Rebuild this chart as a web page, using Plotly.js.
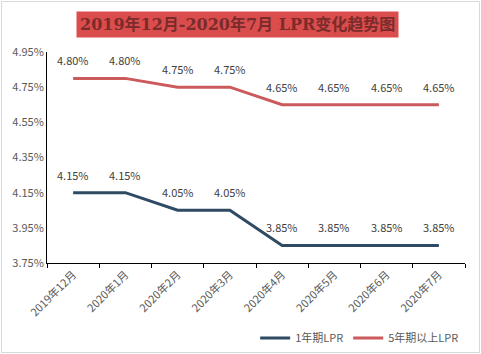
<!DOCTYPE html>
<html><head><meta charset="utf-8">
<script src="https://cdn.plot.ly/plotly-3.0.1.min.js"></script>
<style>html,body{margin:0;padding:0;background:#fff}#c{width:481px;height:354px}</style>
</head><body><div id="c"></div>
<script>
const categories = ["2019年12月","2020年1月","2020年2月","2020年3月","2020年4月","2020年5月","2020年6月","2020年7月"];
const lpr1 = [4.15,4.15,4.05,4.05,3.85,3.85,3.85,3.85];
const lpr5 = [4.80,4.80,4.75,4.75,4.65,4.65,4.65,4.65];
const seriesNames = ["1年期LPR","5年期以上LPR"];
const yTicks = [3.75,3.95,4.15,4.35,4.55,4.75,4.95];

const fnt = {family:"Noto Sans CJK SC, Noto Sans, sans-serif", size:11, color:"#404040"};
function tr(vals, name, color){
  return {x:categories, y:vals, name:name, type:"scatter", mode:"lines",
    line:{color:color,width:3}, cliponaxis:false};
}
const data = [tr(lpr1, seriesNames[0], "#2F4B64"), tr(lpr5, seriesNames[1], "#CC5A5D")];
const labels = [];
[lpr1, lpr5].forEach(vals => vals.forEach((v,i) => labels.push({
  x:categories[i], y:v, xref:"x", yref:"y", text:v.toFixed(2)+"%", showarrow:false,
  yshift:18, yanchor:"middle", xanchor:"center", font:{...fnt, size:11}
})));
const L=47, T=52, W=418, H=211;
const px = v => (v-L)/W, py = v => (T+H-v)/H;
const layout = {
  width:481, height:354, margin:{l:L,r:481-L-W,t:T,b:354-T-H},
  paper_bgcolor:"#fff", plot_bgcolor:"#fff", showlegend:true,
  font:fnt,
  xaxis:{type:"category", automargin:false, showline:true, linecolor:"#000", linewidth:1, ticks:"outside", tickson:"boundaries",
    ticklen:4, tickcolor:"#000", tickangle:-45, showgrid:false, tickfont:{...fnt, color:"#595959"}, range:[-0.5,7.5]},
  yaxis:{automargin:false, range:[3.75,4.95], tickvals:yTicks, ticktext:yTicks.map(v=>v.toFixed(2)+"%"), showline:true, linecolor:"#000",
    linewidth:1, showgrid:false, zeroline:false, ticks:"", tickfont:{...fnt, color:"#595959"}},
  legend:{orientation:"h", xref:"container", yref:"container", x:0.965, xanchor:"right", y:(354-338)/354, yanchor:"middle",
    font:{...fnt,color:"#595959"}, itemwidth:30, tracegroupgap:0, bgcolor:"rgba(0,0,0,0)"},
  shapes:[{type:"rect", xref:"paper", yref:"paper", x0:px(1.5), x1:px(479.5), y0:py(352.5), y1:py(1.5),
    line:{color:"#D9D9D9", width:1}, fillcolor:"rgba(0,0,0,0)", layer:"below"}],
  annotations:[{text:"2019年12月-2020年7月 LPR变化趋势图", xref:"paper", yref:"paper", x:0.455, y:1, yshift:28,
    xanchor:"center", yanchor:"middle", showarrow:false, bgcolor:"#DB4D4D", borderpad:3,
    font:{family:"DejaVu Serif, Noto Sans CJK SC, serif", size:16, color:"#7A2B2B", weight:"bold"}}].concat(labels)
};
Plotly.newPlot("c", data, layout, {displayModeBar:false});
</script></body></html>
